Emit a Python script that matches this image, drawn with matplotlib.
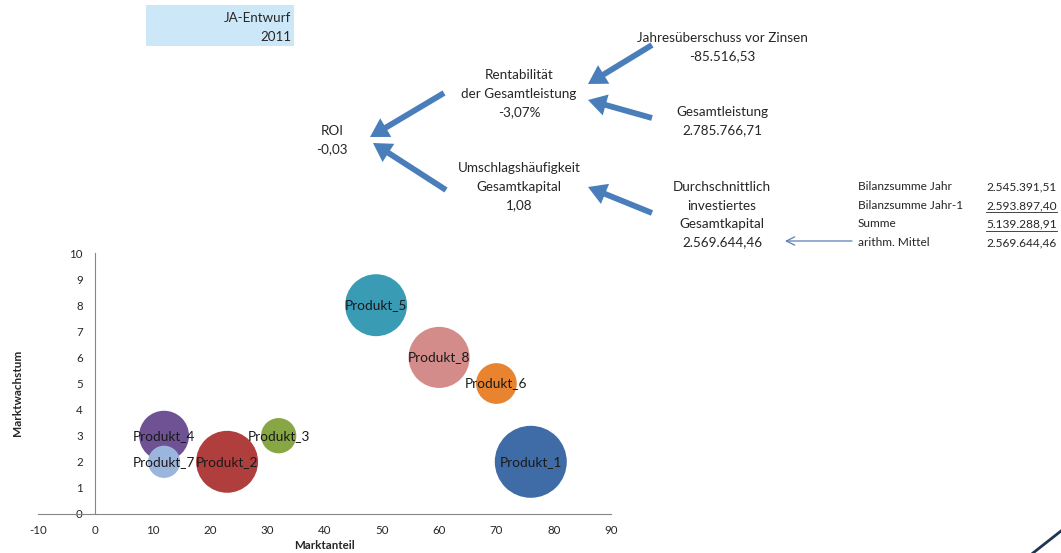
import matplotlib
matplotlib.use("Agg")
import matplotlib.pyplot as plt
from matplotlib.patches import Ellipse, FancyArrowPatch, Rectangle
from matplotlib.lines import Line2D
import numpy as np

plt.rcParams["axes.unicode_minus"] = False

W, H = 1061, 553

# bubble chart data
products = ["Produkt_1", "Produkt_2", "Produkt_3", "Produkt_4",
            "Produkt_5", "Produkt_6", "Produkt_7", "Produkt_8"]
marktanteil = [76, 23, 32, 12, 49, 70, 12, 60]
marktwachstum = [2, 2, 3, 3, 8, 5, 2, 6]
bubble_size = [50, 37, 12, 24, 37, 16, 10, 36]
colors = ["#3F6BA6", "#B03E3C", "#86A744", "#6E5294",
          "#3A9BB5", "#E8832F", "#9BB5DC", "#D48C8B"]
x_ticks = list(range(-10, 100, 10))
y_ticks = list(range(0, 11))

# ROI tree
header_lines = ["JA-Entwurf", "2011"]
tree_nodes = {
    "jue": ["Jahresüberschuss vor Zinsen", "-85.516,53"],
    "rent": ["Rentabilität", "der Gesamtleistung", "-3,07%"],
    "gl": ["Gesamtleistung", "2.785.766,71"],
    "roi": ["ROI", "-0,03"],
    "umsch": ["Umschlagshäufigkeit", "Gesamtkapital", "1,08"],
    "kap": ["Durchschnittlich", "investiertes", "Gesamtkapital", "2.569.644,46"],
}
table_labels = ["Bilanzsumme Jahr", "Bilanzsumme Jahr-1", "Summe", "arithm. Mittel"]
table_values = ["2.545.391,51", "2.593.897,40", "5.139.288,91", "2.569.644,46"]
table_underlined = [False, True, True, False]

FONT = "Lato"
TXT = "#262626"
ARROW = "#4A7EBB"


def fx(x):
    return x / W


def fy(y):
    return 1 - y / H


fig = plt.figure(figsize=(W / 100, H / 100), dpi=100)
fig.patch.set_facecolor("white")

# header box
fig.add_artist(Rectangle((fx(146), fy(46)), fx(148), 41 / H,
                         transform=fig.transFigure, color="#CCE8F8", lw=0))
for i, line in enumerate(header_lines):
    fig.text(fx(291), fy(18 + i * 19), line, ha="right", va="center",
             fontsize=9.6, family=FONT, color=TXT)

# tree texts (center x, first line y)
node_pos = {
    "jue": (722, 38), "rent": (519, 75), "gl": (722, 112),
    "roi": (332, 131), "umsch": (519, 168), "kap": (722, 187),
}
for key, lines in tree_nodes.items():
    cx, cy = node_pos[key]
    for i, line in enumerate(lines):
        fig.text(fx(cx), fy(cy + i * 18.5), line, ha="center", va="center",
                 fontsize=9.7, family=FONT, color=TXT)

# thick arrows (tail -> head, pixels)
arrows = [((652, 45), (588, 84)), ((652, 118), (588, 100)),
          ((444, 93), (370, 137)), ((446, 190), (373, 143)),
          ((652, 213), (588, 187))]
for (x0, y0), (x1, y1) in arrows:
    fig.add_artist(FancyArrowPatch(
        (fx(x0), fy(y0)), (fx(x1), fy(y1)), transform=fig.transFigure,
        arrowstyle="simple,head_length=1.1,head_width=1.3,tail_width=0.35",
        mutation_scale=12, color=ARROW, lw=0, shrinkA=0, shrinkB=0))

# thin arrow to the average
fig.add_artist(FancyArrowPatch(
    (fx(852), fy(241)), (fx(785), fy(241)), transform=fig.transFigure,
    arrowstyle="->,head_length=0.6,head_width=0.3", mutation_scale=10,
    color="#5B7FB5", lw=0.9, shrinkA=0, shrinkB=0))

# table
value_texts = []
for i, (lab, val) in enumerate(zip(table_labels, table_values)):
    yy = 187 + i * 18.5
    fig.text(fx(858), fy(yy), lab, ha="left", va="center",
             fontsize=8.6, family=FONT, color=TXT)
    t = fig.text(fx(1057), fy(yy), val, ha="right", va="center",
                 fontsize=8.6, family=FONT, color=TXT)
    value_texts.append((t, yy))

fig.canvas.draw()
renderer = fig.canvas.get_renderer()
for (t, yy), under in zip(value_texts, table_underlined):
    if under:
        bb = t.get_window_extent(renderer)
        fig.add_artist(Line2D([bb.x0 / W, bb.x1 / W], [fy(yy + 6.5), fy(yy + 6.5)],
                              transform=fig.transFigure, color=TXT, lw=0.6))

# corner decoration
fig.add_artist(Line2D([fx(1033), fx(1061)], [fy(553), fy(531)],
                      transform=fig.transFigure, color="#1F3552", lw=2))

# bubble chart
ax_l, ax_r, ax_t, ax_b = 38, 611, 253, 514
ax = fig.add_axes([fx(ax_l), fy(ax_b), (ax_r - ax_l) / W, (ax_b - ax_t) / H])
ax.set_xlim(-10, 90)
ax.set_ylim(0, 10)
ax.patch.set_alpha(0)
px_x = (ax_r - ax_l) / 100
px_y = (ax_b - ax_t) / 10
smax = max(bubble_size)
for name, x, y, s, c in zip(products, marktanteil, marktwachstum, bubble_size, colors):
    d_px = 72 * np.sqrt(s / smax)
    ax.add_patch(Ellipse((x, y), d_px / px_x, d_px / px_y, color=c, lw=0))
for name, x, y in zip(products, marktanteil, marktwachstum):
    ax.text(x, y, name, ha="center", va="center", fontsize=9.8,
            family=FONT, color="#1A1A1A")

for side in ["top", "right"]:
    ax.spines[side].set_visible(False)
ax.spines["left"].set_position(("data", 0))
ax.spines["left"].set_color("#868686")
ax.spines["bottom"].set_color("#868686")
ax.set_xticks(x_ticks)
ax.set_yticks(y_ticks)
ax.tick_params(axis="both", labelsize=8.3, colors="#868686", length=0,
               labelcolor=TXT)
ax.tick_params(axis="x", pad=8)
ax.tick_params(axis="y", pad=9)
for lbl in ax.get_xticklabels() + ax.get_yticklabels():
    lbl.set_family(FONT)
ax.set_xlabel("Marktanteil", fontsize=8.3, fontweight="bold", family=FONT,
              color=TXT, labelpad=3)
fig.text(fx(18), fy(393), "Marktwachstum", rotation=90, ha="center",
         va="center", fontsize=8.5, fontweight="bold", family=FONT, color=TXT)

fig.savefig("out.png", dpi=100)
